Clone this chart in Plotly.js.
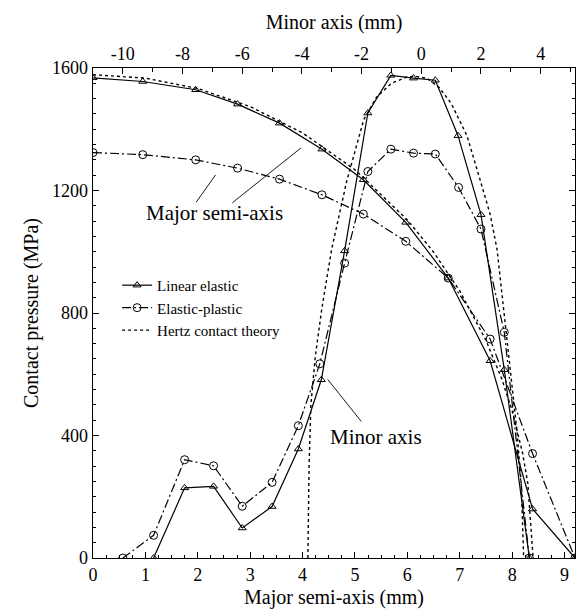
<!DOCTYPE html>
<html>
<head>
<meta charset="utf-8">
<script src="https://cdn.plot.ly/plotly-3.0.1.min.js"></script>
<style>html,body{margin:0;padding:0;background:#fff;}#chart{width:577px;height:615px;}</style>
</head>
<body>
<div id="chart"></div>
<script>
// Major semi-axis (bottom axis, mm)
var majorX = [0, 0.95, 1.96, 2.76, 3.56, 4.37, 5.16, 5.97, 6.78, 7.58, 8.39, 9.2];
var majorLinear = [1568, 1556, 1529, 1482, 1420, 1335, 1235, 1096, 914, 644, 160, 0];
var majorPlastic = [1324, 1317, 1300, 1273, 1237, 1186, 1123, 1034, 914, 715, 341, 0];
var hertzMajorX = [0, 1, 2, 3, 4, 5, 6, 6.5, 7, 7.5, 7.8, 8.0, 8.2, 8.3, 8.4];
var hertzMajorY = [1578, 1567, 1533, 1474, 1388, 1268, 1104, 999, 872, 711, 586, 481, 342, 243, 0];

// Minor axis (top axis, mm)
var minorLinearX = [-8.97, -7.93, -6.96, -6.0, -5.0, -4.12, -3.35, -2.57, -1.79, -1.02, -0.26, 0.47, 1.23, 2.0, 2.78, 3.62];
var minorLinear = [0, 229, 234, 98, 168, 356, 582, 1003, 1453, 1576, 1567, 1560, 1379, 1121, 615, 0];
var minorPlasticX = [-10.0, -8.97, -7.93, -6.96, -6.0, -5.0, -4.12, -3.4, -2.57, -1.79, -1.02, -0.26, 0.47, 1.25, 2.0, 2.78, 3.62];
var minorPlastic = [0, 74, 321, 301, 169, 247, 432, 634, 963, 1262, 1335, 1322, 1319, 1210, 1074, 737, 0];
var hertzMinorX = [-3.8, -3.76, -3.7, -3.55, -3.33, -3.0, -2.5, -1.93, -1.5, -1.0, -0.5, -0.2, 0.2, 0.6, 1.0, 1.53, 2.0, 2.31, 2.54, 2.76, 3.0, 3.2, 3.35, 3.43];
var hertzMinorY = [0, 300, 500, 660, 816, 1010, 1230, 1431, 1505, 1550, 1570, 1573, 1566, 1536, 1485, 1379, 1225, 1121, 1007, 816, 610, 420, 240, 0];

var seriesNames = ['Linear elastic', 'Elastic-plastic', 'Hertz contact theory'];
var bottomTicks = [0, 1, 2, 3, 4, 5, 6, 7, 8, 9];
var topTicks = [-10, -8, -6, -4, -2, 0, 2, 4];
var yTicks = [0, 400, 800, 1200, 1600];

var FONT = 'Liberation Serif';
var lineLE = {color: '#000', width: 1.2, dash: 'solid'};
var lineEP = {color: '#000', width: 1.2, dash: '9px,3px,2px,3px'};
var lineHZ = {color: '#000', width: 1.4, dash: 'dot'};
var mkLE = {symbol: 'triangle-up-open', size: 7, color: '#000', line: {width: 1, color: '#000'}};
var mkEP = {symbol: 'circle-open', size: 8, color: '#000', line: {width: 1, color: '#000'}};

var traces = [
  {x: majorX, y: majorLinear, mode: 'lines+markers', line: lineLE, marker: mkLE, name: seriesNames[0], legendgroup: 'le', xaxis: 'x', yaxis: 'y'},
  {x: majorX, y: majorPlastic, mode: 'lines+markers', line: lineEP, marker: mkEP, name: seriesNames[1], legendgroup: 'ep', xaxis: 'x', yaxis: 'y'},
  {x: hertzMajorX, y: hertzMajorY, mode: 'lines', line: lineHZ, name: seriesNames[2], legendgroup: 'hz', xaxis: 'x', yaxis: 'y'},
  {x: minorLinearX, y: minorLinear, mode: 'lines+markers', line: lineLE, marker: mkLE, name: seriesNames[0], legendgroup: 'le', showlegend: false, xaxis: 'x2', yaxis: 'y'},
  {x: minorPlasticX, y: minorPlastic, mode: 'lines+markers', line: lineEP, marker: mkEP, name: seriesNames[1], legendgroup: 'ep', showlegend: false, xaxis: 'x2', yaxis: 'y'},
  {x: hertzMinorX, y: hertzMinorY, mode: 'lines', line: lineHZ, name: seriesNames[2], legendgroup: 'hz', showlegend: false, xaxis: 'x2', yaxis: 'y'}
];

var axisCommon = {
  showgrid: false, zeroline: false, showline: true, linecolor: '#000', linewidth: 1.3,
  ticks: 'inside', tickcolor: '#000', tickwidth: 1, ticklen: 6,
  tickfont: {family: FONT, size: 18, color: '#000'}
};

var layout = {
  width: 577, height: 615,
  margin: {l: 93, r: 2, t: 68, b: 57},
  paper_bgcolor: '#fff', plot_bgcolor: '#fff',
  font: {family: FONT, color: '#000'},
  showlegend: true,
  legend: {x: 0.05, y: 0.59, xanchor: 'left', yanchor: 'top', bgcolor: 'rgba(0,0,0,0)',
           font: {family: FONT, size: 15, color: '#000'}, tracegroupgap: 0, itemwidth: 30},
  xaxis: Object.assign({}, axisCommon, {
    range: [0, 9.2], tickvals: bottomTicks, ticktext: bottomTicks.map(String),
    minor: {dtick: 0.25, tick0: 0, ticks: 'inside', ticklen: 3, tickcolor: '#000', tickwidth: 1},
    title: {text: 'Major semi-axis (mm)', font: {family: FONT, size: 20, color: '#000'}, standoff: 6}
  }),
  xaxis2: Object.assign({}, axisCommon, {
    overlaying: 'x', side: 'top', anchor: 'y',
    range: [-11, 5.15], tickvals: topTicks, ticktext: topTicks.map(String),
    minor: {dtick: 1, tick0: 0, ticks: 'inside', ticklen: 4, tickcolor: '#000', tickwidth: 1},
    title: {text: 'Minor axis (mm)', font: {family: FONT, size: 20, color: '#000'}, standoff: 8}
  }),
  yaxis: Object.assign({}, axisCommon, {
    range: [0, 1600], tickvals: yTicks, ticktext: yTicks.map(String), mirror: 'ticks',
    minor: {dtick: 50, tick0: 0, ticks: 'inside', ticklen: 3, tickcolor: '#000', tickwidth: 1},
    title: {text: 'Contact pressure (MPa)', font: {family: FONT, size: 20, color: '#000'}, standoff: 8}
  }),
  annotations: [
    {x: 2.32, y: 1127, xref: 'x', yref: 'y', text: 'Major semi-axis', showarrow: false,
     font: {family: FONT, size: 21, color: '#000'}},
    {x: 5.41, y: 396, xref: 'x', yref: 'y', text: 'Minor axis', showarrow: false,
     font: {family: FONT, size: 21, color: '#000'}}
  ],
  shapes: [
    {type: 'line', xref: 'x', yref: 'y', x0: 1.97, y0: 1162, x1: 2.34, y1: 1251, line: {color: '#000', width: 0.9}},
    {type: 'line', xref: 'x', yref: 'y', x0: 2.66, y0: 1160, x1: 3.97, y1: 1339, line: {color: '#000', width: 0.9}},
    {type: 'line', xref: 'x', yref: 'y', x0: 4.48, y0: 583, x1: 5.12, y1: 446, line: {color: '#000', width: 0.9}}
  ]
};

Plotly.newPlot('chart', traces, layout, {displayModeBar: false, staticPlot: true});
</script>
</body>
</html>
